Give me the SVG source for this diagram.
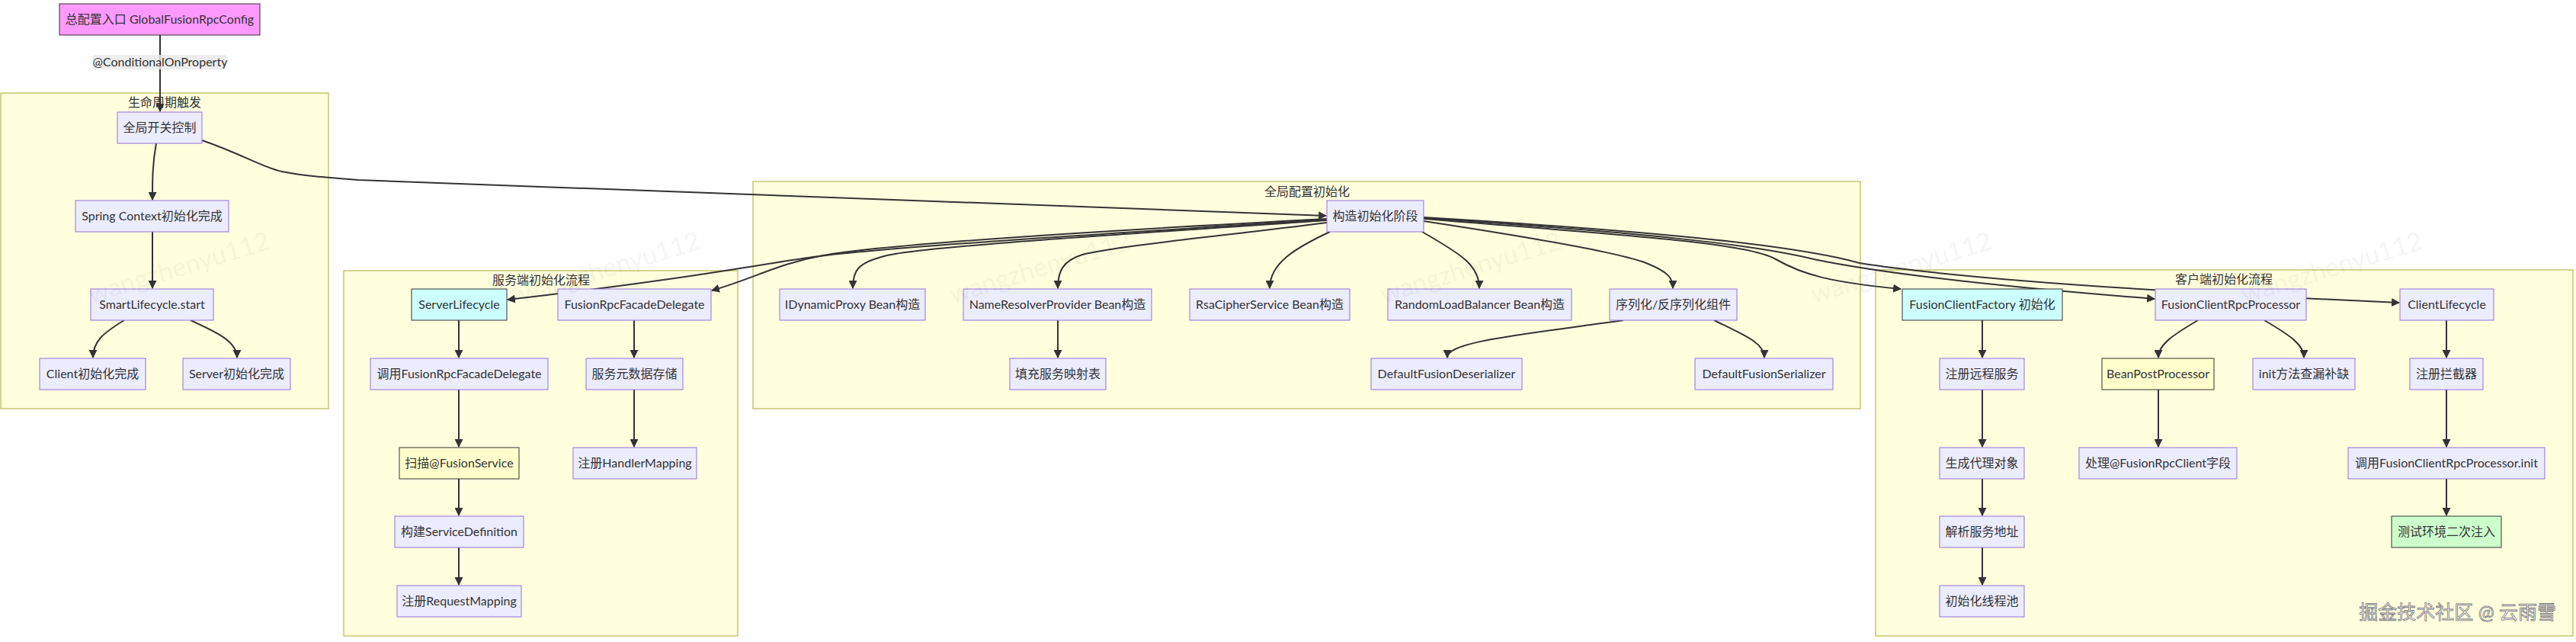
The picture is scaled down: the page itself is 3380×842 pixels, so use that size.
<svg xmlns="http://www.w3.org/2000/svg" width="3380" height="842" viewBox="0 0 3380 842">
<style>
text{font-family:"Lato","Noto Sans CJK SC",sans-serif;font-size:16px;fill:#333;text-anchor:middle}
.cl{fill:#ffffde;stroke:#aaaa33;stroke-width:1}
.n{fill:#ececff;stroke:#9370db;stroke-width:1}
.pink{fill:#f9f;stroke:#333;stroke-width:1}
.cyan{fill:#ccffff;stroke:#333;stroke-width:1}
.yel{fill:#ffffcc;stroke:#333;stroke-width:1}
.grn{fill:#ccffcc;stroke:#333;stroke-width:1}
.e{fill:none;stroke:#333;stroke-width:2;marker-end:url(#ah)}
.wm{font-size:34px;fill:#000;opacity:.035}
.jj{font-size:25px;fill:#f8f8f8;stroke:#777;stroke-width:0.8;text-anchor:end}
</style>
<defs>
<marker id="ah" viewBox="0 0 10 10" refX="9" refY="5" markerWidth="11" markerHeight="11" markerUnits="userSpaceOnUse" orient="auto">
<path d="M0,0 L10,5 L0,10 z" fill="#333"/>
</marker>
</defs>
<rect width="3380" height="842" fill="#fff"/>
<g id="clusters">
<g id="c_life"><rect class="cl" x="1" y="122" width="430" height="414"/><text x="216" y="140">生命周期触发</text></g>
<g id="c_global"><rect class="cl" x="988" y="238" width="1453" height="298"/><text x="1715" y="257">全局配置初始化</text></g>
<g id="c_server"><rect class="cl" x="451" y="355" width="517" height="479"/><text x="710" y="373">服务端初始化流程</text></g>
<g id="c_client"><rect class="cl" x="2461" y="354" width="915" height="480"/><text x="2918" y="372">客户端初始化流程</text></g>
</g>
<g id="connectors">
<path class="e" d="M210,46 L210,146"/>
<path class="e" d="M205,188 C200,215 200,235 200,262"/>
<path class="e" d="M265,184 C320,203 345,220 370,225 C400,231 430,233 470,236 L1740,283"/>
<path class="e" d="M200,304 L200,378"/>
<path class="e" d="M163,420 C135,437 122,448 122,469"/>
<path class="e" d="M250,420 C285,436 311,448 311,469"/>
<path class="e" d="M1741,288 C1400,310 1150,325 1060,338 C990,348 900,366 666,393"/>
<path class="e" d="M1741,287 C1400,305 1150,322 1080,335 C1020,346 990,365 934,381"/>
<path class="e" d="M1741,289 C1400,312 1200,325 1160,336 C1125,345 1119,355 1119,378"/>
<path class="e" d="M1741,292 C1600,310 1470,322 1420,334 C1395,342 1388,355 1388,378"/>
<path class="e" d="M1745,304 C1700,325 1666,345 1666,378"/>
<path class="e" d="M1866,304 C1910,330 1941,345 1941,378"/>
<path class="e" d="M1868,290 C2000,310 2120,330 2160,345 C2190,357 2195,365 2195,378"/>
<path class="e" d="M1868,287 C2150,310 2290,318 2330,340 C2365,360 2400,370 2494,379"/>
<path class="e" d="M1868,286 C2150,305 2300,320 2380,340 C2500,365 2700,382 2827,392"/>
<path class="e" d="M1868,285 C2150,302 2350,320 2440,345 C2600,370 2900,386 3148,397"/>
<path class="e" d="M602,420 L602,469"/>
<path class="e" d="M602,511 L602,586"/>
<path class="e" d="M602,628 L602,676"/>
<path class="e" d="M602,718 L602,767"/>
<path class="e" d="M832,420 L832,469"/>
<path class="e" d="M832,511 L832,586"/>
<path class="e" d="M1388,420 L1388,469"/>
<path class="e" d="M2130,420 C1990,440 1899,448 1899,469"/>
<path class="e" d="M2249,420 C2290,440 2315,450 2315,469"/>
<path class="e" d="M2601,420 L2601,469"/>
<path class="e" d="M2601,511 L2601,586"/>
<path class="e" d="M2601,628 L2601,676"/>
<path class="e" d="M2601,718 L2601,767"/>
<path class="e" d="M2884,420 C2850,440 2832,452 2832,469"/>
<path class="e" d="M2971,420 C3005,440 3023,452 3023,469"/>
<path class="e" d="M2832,511 L2832,586"/>
<path class="e" d="M3210,420 L3210,469"/>
<path class="e" d="M3210,511 L3210,586"/>
<path class="e" d="M3210,628 L3210,676"/>
<rect x="122" y="72" width="175" height="19" fill="#e8e8e8" opacity="0.8"/>
<text x="210" y="87">@ConditionalOnProperty</text>
</g>
<g id="nodes">
<g id="n_entry"><rect class="pink" x="78" y="5" width="263" height="41"/><text x="209.5" y="31">总配置入口 GlobalFusionRpcConfig</text></g>
<g id="n_switch"><rect class="n" x="154" y="147" width="111" height="41"/><text x="209.5" y="173">全局开关控制</text></g>
<g id="n_spring"><rect class="n" x="99" y="263" width="201" height="41"/><text x="199.5" y="289">Spring Context初始化完成</text></g>
<g id="n_smart"><rect class="n" x="119" y="379" width="161" height="41"/><text x="199.5" y="405">SmartLifecycle.start</text></g>
<g id="n_clidone"><rect class="n" x="52" y="470" width="139" height="41"/><text x="121.5" y="496">Client初始化完成</text></g>
<g id="n_srvdone"><rect class="n" x="240" y="470" width="141" height="41"/><text x="310.5" y="496">Server初始化完成</text></g>

<g id="n_serverlc"><rect class="cyan" x="540" y="379" width="125" height="41"/><text x="602.5" y="405">ServerLifecycle</text></g>
<g id="n_frfd"><rect class="n" x="732" y="379" width="201" height="41"/><text x="832.5" y="405">FusionRpcFacadeDelegate</text></g>
<g id="n_callfrfd"><rect class="n" x="486" y="470" width="233" height="41"/><text x="602.5" y="496">调用FusionRpcFacadeDelegate</text></g>
<g id="n_meta"><rect class="n" x="769" y="470" width="127" height="41"/><text x="832.5" y="496">服务元数据存储</text></g>
<g id="n_scan"><rect class="yel" x="524" y="587" width="157" height="41"/><text x="602.5" y="613">扫描@FusionService</text></g>
<g id="n_handler"><rect class="n" x="752" y="587" width="162" height="41"/><text x="833" y="613">注册HandlerMapping</text></g>
<g id="n_svcdef"><rect class="n" x="518" y="677" width="169" height="41"/><text x="602.5" y="703">构建ServiceDefinition</text></g>
<g id="n_reqmap"><rect class="n" x="521" y="768" width="163" height="41"/><text x="602.5" y="794">注册RequestMapping</text></g>

<g id="n_construct"><rect class="n" x="1741" y="263" width="127" height="41"/><text x="1804.5" y="289">构造初始化阶段</text></g>
<g id="n_proxy"><rect class="n" x="1023" y="379" width="191" height="41"/><text x="1118.5" y="405">IDynamicProxy Bean构造</text></g>
<g id="n_resolver"><rect class="n" x="1264" y="379" width="247" height="41"/><text x="1387.5" y="405">NameResolverProvider Bean构造</text></g>
<g id="n_rsa"><rect class="n" x="1561" y="379" width="210" height="41"/><text x="1666" y="405">RsaCipherService Bean构造</text></g>
<g id="n_lb"><rect class="n" x="1821" y="379" width="241" height="41"/><text x="1941.5" y="405">RandomLoadBalancer Bean构造</text></g>
<g id="n_serial"><rect class="n" x="2112" y="379" width="167" height="41"/><text x="2195.5" y="405">序列化/反序列化组件</text></g>
<g id="n_fill"><rect class="n" x="1325" y="470" width="126" height="41"/><text x="1388" y="496">填充服务映射表</text></g>
<g id="n_deser"><rect class="n" x="1799" y="470" width="198" height="41"/><text x="1898" y="496">DefaultFusionDeserializer</text></g>
<g id="n_ser"><rect class="n" x="2224" y="470" width="181" height="41"/><text x="2314.5" y="496">DefaultFusionSerializer</text></g>

<g id="n_factory"><rect class="cyan" x="2496" y="379" width="210" height="41"/><text x="2601" y="405">FusionClientFactory 初始化</text></g>
<g id="n_fcrp"><rect class="n" x="2828" y="379" width="198" height="41"/><text x="2927" y="405">FusionClientRpcProcessor</text></g>
<g id="n_clientlc"><rect class="n" x="3149" y="379" width="123" height="41"/><text x="3210.5" y="405">ClientLifecycle</text></g>
<g id="n_remote"><rect class="n" x="2545" y="470" width="111" height="41"/><text x="2600.5" y="496">注册远程服务</text></g>
<g id="n_bpp"><rect class="yel" x="2758" y="470" width="147" height="41"/><text x="2831.5" y="496">BeanPostProcessor</text></g>
<g id="n_init"><rect class="n" x="2956" y="470" width="134" height="41"/><text x="3023" y="496">init方法查漏补缺</text></g>
<g id="n_interceptor"><rect class="n" x="3162" y="470" width="96" height="41"/><text x="3210" y="496">注册拦截器</text></g>
<g id="n_proxyobj"><rect class="n" x="2545" y="587" width="111" height="41"/><text x="2600.5" y="613">生成代理对象</text></g>
<g id="n_field"><rect class="n" x="2728" y="587" width="207" height="41"/><text x="2831.5" y="613">处理@FusionRpcClient字段</text></g>
<g id="n_callinit"><rect class="n" x="3081" y="587" width="258" height="41"/><text x="3210" y="613">调用FusionClientRpcProcessor.init</text></g>
<g id="n_addr"><rect class="n" x="2545" y="677" width="111" height="41"/><text x="2600.5" y="703">解析服务地址</text></g>
<g id="n_test"><rect class="grn" x="3138" y="677" width="144" height="41"/><text x="3210" y="703">测试环境二次注入</text></g>
<g id="n_pool"><rect class="n" x="2545" y="768" width="111" height="41"/><text x="2600.5" y="794">初始化线程池</text></g>
</g>
<g id="watermarks">
<text class="wm" transform="translate(238,362) rotate(-17)">wangzhenyu112</text>
<text class="wm" transform="translate(803,362) rotate(-17)">wangzhenyu112</text>
<text class="wm" transform="translate(1368,362) rotate(-17)">wangzhenyu112</text>
<text class="wm" transform="translate(1933,362) rotate(-17)">wangzhenyu112</text>
<text class="wm" transform="translate(2498,362) rotate(-17)">wangzhenyu112</text>
<text class="wm" transform="translate(3063,362) rotate(-17)">wangzhenyu112</text>
<text class="jj" x="3354" y="812">掘金技术社区 @ 云雨雪</text>
</g>
</svg>
